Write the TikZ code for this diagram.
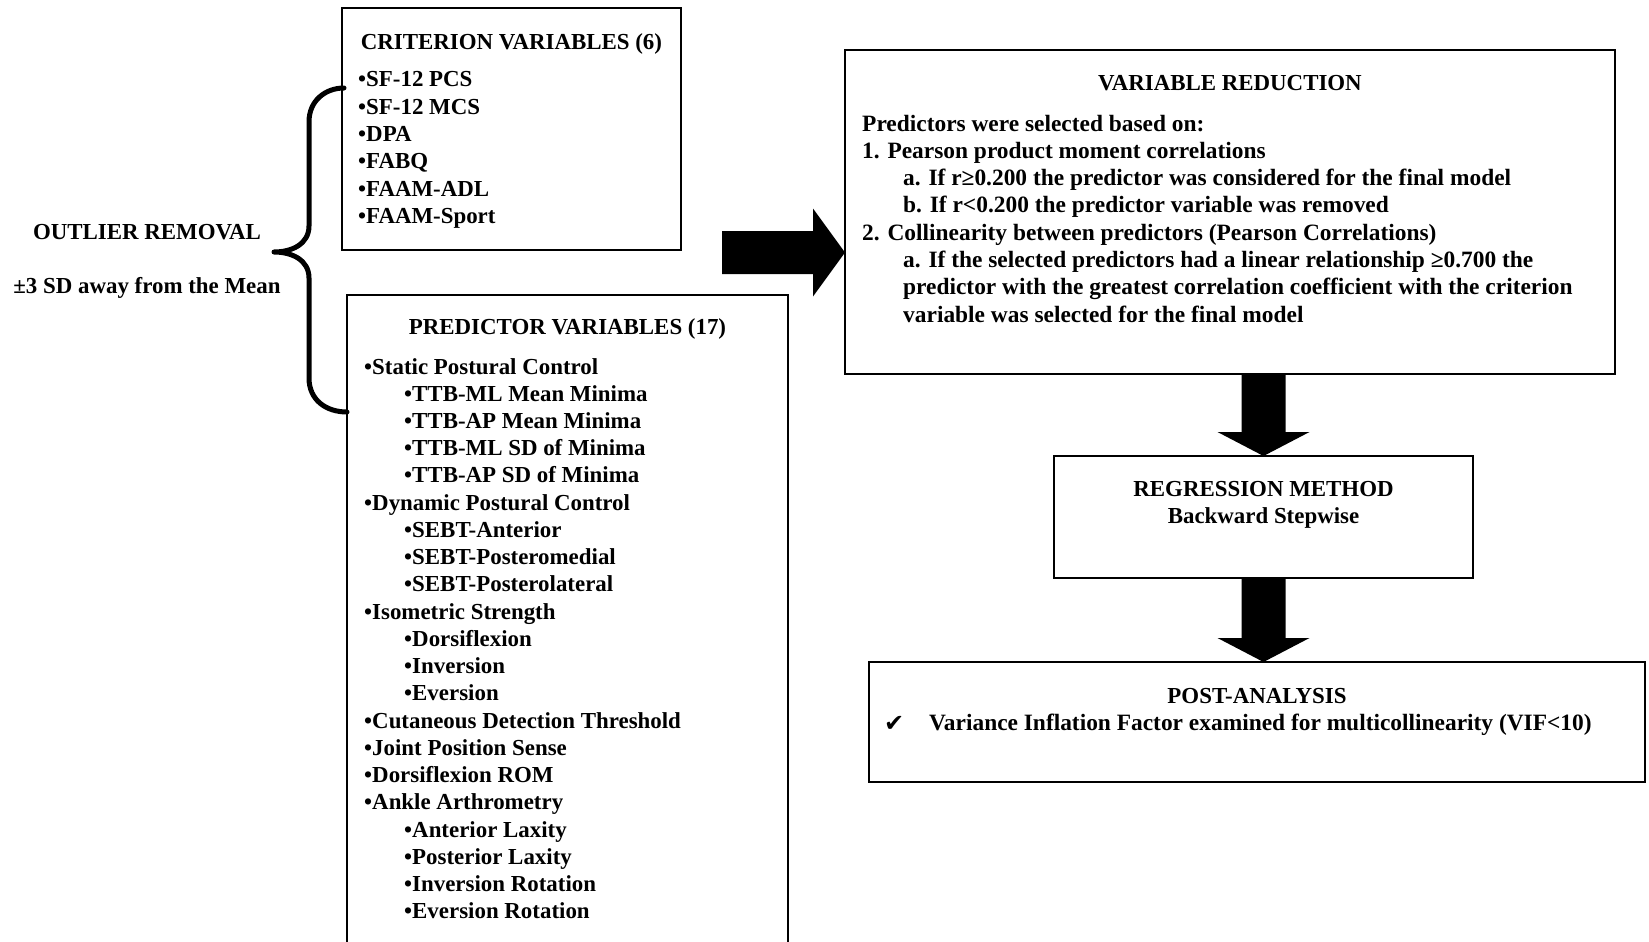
\documentclass[tikz,border=0pt]{standalone}
\usepackage{fontspec}
\setmainfont{Liberation Serif}
\newfontfamily\symfnt{DejaVu Sans}
\usetikzlibrary{calc}
\begin{document}
\begin{tikzpicture}[x=1pt,y=-1pt,
  box/.style={draw,line width=1.6pt,inner sep=0pt,outer sep=0pt},
  txt/.style={font=\fontsize{22.9}{27}\selectfont\bfseries,inner sep=0pt,anchor=base west},
  wtxt/.style={txt,font=\fontsize{23.4}{27}\selectfont\bfseries},
  ctxt/.style={txt,anchor=base},
  bracestyle/.style={line width=5pt,line cap=round,line join=round},
  blk/.style={fill=black}]
\useasboundingbox (0,0) rectangle (1649,942);
\fill[white] (0,0) rectangle (1649,942);

% boxes
\node[box,minimum width=339pt,minimum height=242pt] (crit) at (511.5,129) {};
\node[inner sep=0pt,outer sep=0pt,minimum width=441pt,minimum height=655pt] (pred) at (567.5,622.5) {};
\draw[line width=1.6pt] (pred.south west) -- (pred.north west) -- (pred.north east) -- (pred.south east);
\node[box,minimum width=770pt,minimum height=324pt] (varred) at (1230,212) {};
\node[box,minimum width=419pt,minimum height=122pt] (regr) at (1263.5,517) {};
\node[box,minimum width=776pt,minimum height=120pt] (post) at (1257,722) {};

% outlier removal
\node[ctxt] (outT) at (147,239) {OUTLIER REMOVAL};
\node[ctxt] (outS) at (147,293) {±3 SD away from the Mean};

% criterion
\node[ctxt] (critT) at (511.5,49) {CRITERION VARIABLES (6)};
\foreach \t [count=\i] in {SF-12 PCS,SF-12 MCS,DPA,FABQ,FAAM-ADL,FAAM-Sport}
  \node[txt] (c\i) at (358,{87+27.3*(\i-1)}) {•\t};

% predictor
\node[ctxt] (predT) at (567.5,334) {PREDICTOR VARIABLES (17)};
\foreach \l/\t [count=\i] in {0/Static Postural Control,1/TTB-ML Mean Minima,1/TTB-AP Mean Minima,
  1/TTB-ML SD of Minima,1/TTB-AP SD of Minima,0/Dynamic Postural Control,1/SEBT-Anterior,
  1/SEBT-Posteromedial,1/SEBT-Posterolateral,0/Isometric Strength,1/Dorsiflexion,1/Inversion,
  1/Eversion,0/Cutaneous Detection Threshold,0/Joint Position Sense,0/Dorsiflexion ROM,
  0/Ankle Arthrometry,1/Anterior Laxity,1/Posterior Laxity,1/Inversion Rotation,1/Eversion Rotation}
  \node[txt] (p\i) at ({364+40*\l},{374+27.24*(\i-1)}) {•\t};

% variable reduction
\node[ctxt] (vrT) at (1230,90) {VARIABLE REDUCTION};
\node[wtxt] (vr1) at (862,131) {Predictors were selected based on:};
\node[wtxt] (vr2) at (862,158.3) {1. Pearson product moment correlations};
\node[wtxt] (vr3) at (903,185.6) {a. If r≥0.200 the predictor was considered for the final model};
\node[wtxt] (vr4) at (903,212.9) {b. If r<0.200 the predictor variable was removed};
\node[wtxt] (vr5) at (862,240.2) {2. Collinearity between predictors (Pearson Correlations)};
\node[wtxt] (vr6) at (903,267.5) {a. If the selected predictors had a linear relationship ≥0.700 the};
\node[wtxt] (vr7) at (903,294.8) {predictor with the greatest correlation coefficient with the criterion};
\node[wtxt] (vr8) at (903,322.1) {variable was selected for the final model};

% regression
\node[ctxt] (rgT) at (1263.5,496) {REGRESSION METHOD};
\node[ctxt] (rgS) at (1263.5,523.5) {Backward Stepwise};

% post analysis
\node[ctxt] (paT) at (1257,703) {POST-ANALYSIS};
\node[txt,font=\fontsize{24}{27}\selectfont\symfnt] (chk) at (884,731) {✔};
\node[wtxt] (paS) at (929,730.5) {Variance Inflation Factor examined for multicollinearity (VIF<10)};

% brace
\coordinate (btop) at ($(crit.north west)+(2,80)$);
\coordinate (bbot) at ($(pred.north west)+(0,117)$);
\coordinate (btip) at (274,252);
\draw[bracestyle] (btop) .. controls (326,88) and (309,100) .. (309,122)
  -- (309,226) .. controls (309,244) and (292,252) .. (btip)
  .. controls (292,252) and (309,260) .. (309,278)
  -- (309,378) .. controls (309,400) and (326,412) .. (bbot);

% right block arrow
\coordinate (artail) at (722,252.5);
\coordinate (artip) at (artail -| varred.west);
\fill[blk] ($(artail)+(0,-21.5)$) -- ($(artip)+(-32,-21.5)$) -- ($(artip)+(-32,-44)$) -- (artip)
  -- ($(artip)+(-32,44)$) -- ($(artip)+(-32,21.5)$) -- ($(artail)+(0,21.5)$) -- cycle;

% down block arrows
\coordinate (d1tip) at (regr.north);
\coordinate (d1top) at (regr.north |- varred.south);
\fill[blk] ($(d1top)+(-22,0)$) -- ($(d1tip)+(-22,-24)$) -- ($(d1tip)+(-46,-24)$) -- (d1tip)
  -- ($(d1tip)+(46,-24)$) -- ($(d1tip)+(22,-24)$) -- ($(d1top)+(22,0)$) -- cycle;
\coordinate (d2top) at (regr.south);
\coordinate (d2tip) at (regr.south |- post.north);
\fill[blk] ($(d2top)+(-22,0)$) -- ($(d2tip)+(-22,-24)$) -- ($(d2tip)+(-46,-24)$) -- (d2tip)
  -- ($(d2tip)+(46,-24)$) -- ($(d2tip)+(22,-24)$) -- ($(d2top)+(22,0)$) -- cycle;
\end{tikzpicture}
\end{document}
